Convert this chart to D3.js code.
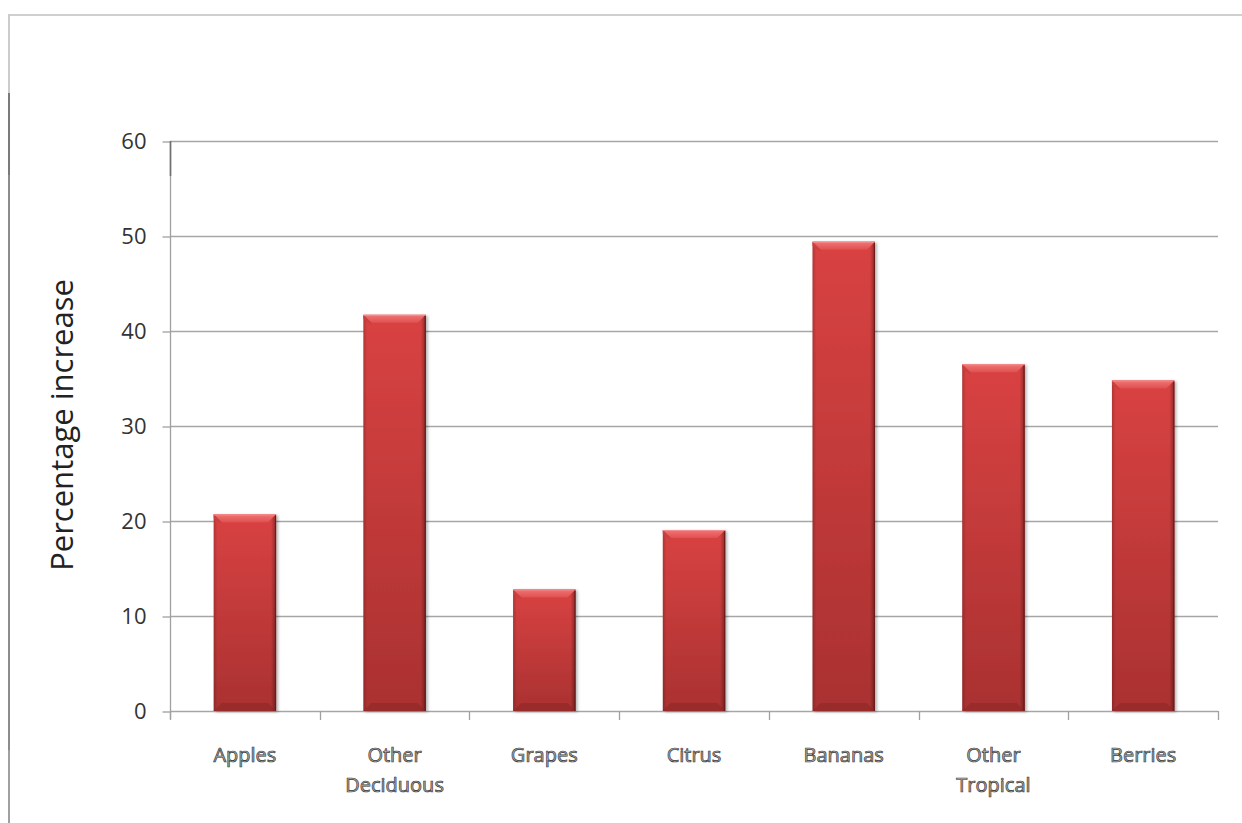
<!DOCTYPE html>
<html>
<head>
<meta charset="utf-8">
<script src="https://cdn.jsdelivr.net/npm/d3@7"></script>
<style>
  html, body { margin: 0; padding: 0; background: #fff; }
  svg { display: block; }
</style>
</head>
<body>
<script>
// Fruit consumption growth, by fruit group
const categories = ["Apples", "Other Deciduous", "Grapes", "Citrus", "Bananas", "Other Tropical", "Berries"];
const values = [20.7, 41.7, 12.8, 19.05, 49.4, 36.5, 34.8];
const yTicks = [0, 10, 20, 30, 40, 50, 60];
const yTitle = "Percentage increase";

const W = 1242, H = 823;
const plot = { left: 170, right: 1218, top: 141, bottom: 711 };
const FONT = "'Open Sans', 'DejaVu Sans', sans-serif";

const svg = d3.select("body").append("svg").attr("width", W).attr("height", H);

// gradients for the bevelled bars
const defs = svg.append("defs");
const body = defs.append("linearGradient").attr("id", "barBody").attr("x1", 0).attr("y1", 0).attr("x2", 0).attr("y2", 1);
body.append("stop").attr("offset", "0%").attr("stop-color", "#d94242");
body.append("stop").attr("offset", "100%").attr("stop-color", "#aa3131");
const side = defs.append("linearGradient").attr("id", "barSide").attr("x1", 0).attr("y1", 0).attr("x2", 1).attr("y2", 0);
side.append("stop").attr("offset", "0%").attr("stop-color", "#000").attr("stop-opacity", 0.18);
side.append("stop").attr("offset", "6%").attr("stop-color", "#000").attr("stop-opacity", 0);
side.append("stop").attr("offset", "92%").attr("stop-color", "#000").attr("stop-opacity", 0);
side.append("stop").attr("offset", "100%").attr("stop-color", "#000").attr("stop-opacity", 0.35);
const topBev = defs.append("linearGradient").attr("id", "topBevel").attr("x1", 0).attr("y1", 0).attr("x2", 0).attr("y2", 1);
topBev.append("stop").attr("offset", "0%").attr("stop-color", "#f07575");
topBev.append("stop").attr("offset", "100%").attr("stop-color", "#e05050");
const shadow = defs.append("filter").attr("id", "barShadow").attr("x", "-20%").attr("y", "-5%").attr("width", "140%").attr("height", "110%");
shadow.append("feDropShadow").attr("dx", 2).attr("dy", 1).attr("stdDeviation", 1.5).attr("flood-color", "#000").attr("flood-opacity", 0.3);

// outer frame of the chart object
svg.append("line").attr("x1", 8).attr("x2", W).attr("y1", 15).attr("y2", 15)
  .attr("stroke", "#cfcfcf").attr("stroke-width", 2);
const frameSegs = [[14, 93, "#cccccc"], [93, 175, "#7a7a7a"], [175, 750, "#8c8c8c"], [750, H, "#a0a0a0"]];
svg.append("g").selectAll("line").data(frameSegs).join("line")
  .attr("x1", 9).attr("x2", 9).attr("y1", d => d[0]).attr("y2", d => d[1])
  .attr("stroke", d => d[2]).attr("stroke-width", 2);

const x = d3.scaleBand().domain(categories).range([plot.left, plot.right]).paddingInner(0.5833).paddingOuter(0.2917);
const xBand = d3.scaleBand().domain(categories).range([plot.left, plot.right]);
const y = d3.scaleLinear().domain([0, 60]).range([plot.bottom, plot.top]);

// horizontal gridlines
svg.append("g").selectAll("line").data(yTicks).join("line")
  .attr("x1", plot.left).attr("x2", plot.right)
  .attr("y1", d => Math.round(y(d)) + 0.5).attr("y2", d => Math.round(y(d)) + 0.5)
  .attr("stroke", "#a6a6a6").attr("stroke-width", 1.3);

// y axis
const yAxis = d3.axisLeft(y).tickValues(yTicks).tickSize(8).tickPadding(16).tickFormat(d3.format("d"));
const gy = svg.append("g").attr("transform", `translate(${plot.left + 0.5},0.5)`).call(yAxis);
gy.select(".domain").remove();
gy.selectAll(".tick line").attr("stroke", "#a0a0a0").attr("stroke-width", 1.3);
gy.selectAll(".tick text").attr("font-family", FONT).attr("font-size", 22)
  .attr("fill", "#333");
svg.append("line").attr("x1", plot.left + 0.5).attr("x2", plot.left + 0.5).attr("y1", plot.top).attr("y2", plot.bottom + 8)
  .attr("stroke", "#a0a0a0").attr("stroke-width", 1.3);
svg.append("line").attr("x1", plot.left + 0.5).attr("x2", plot.left + 0.5).attr("y1", plot.top).attr("y2", plot.top + 35)
  .attr("stroke", "#707070").attr("stroke-width", 1.6);

// x axis with category boundary ticks
const boundaries = categories.map(c => xBand(c)).concat([plot.right]);
svg.append("g").selectAll("line").data(boundaries).join("line")
  .attr("x1", d => Math.round(d) + 0.5).attr("x2", d => Math.round(d) + 0.5)
  .attr("y1", plot.bottom).attr("y2", plot.bottom + 9)
  .attr("stroke", "#a0a0a0").attr("stroke-width", 1.3);

// bars
const bars = svg.append("g").selectAll("g").data(categories).join("g");
bars.append("rect")
  .attr("x", d => x(d)).attr("width", x.bandwidth())
  .attr("y", (d, i) => y(values[i])).attr("height", (d, i) => y(0) - y(values[i]))
  .attr("fill", "url(#barBody)").attr("filter", "url(#barShadow)");
bars.append("rect")
  .attr("x", d => x(d)).attr("width", x.bandwidth())
  .attr("y", (d, i) => y(values[i])).attr("height", (d, i) => y(0) - y(values[i]))
  .attr("fill", "url(#barSide)");
// top bevel
const bev = 8;
bars.append("path")
  .attr("d", (d, i) => {
    const x0 = x(d), x1 = x(d) + x.bandwidth(), t = y(values[i]);
    return `M${x0},${t}L${x1},${t}L${x1 - bev},${t + bev}L${x0 + bev},${t + bev}Z`;
  })
  .attr("fill", "url(#topBevel)");
bars.append("path")
  .attr("d", (d, i) => {
    const x0 = x(d), t = y(values[i]);
    return `M${x0},${t}L${x0 + bev},${t + bev}L${x0 + bev},${t + bev + 2}L${x0},${t + 4}Z`;
  })
  .attr("fill", "#c84040");
bars.append("line")
  .attr("x1", d => x(d)).attr("x2", d => x(d) + x.bandwidth())
  .attr("y1", (d, i) => y(values[i]) + 0.5).attr("y2", (d, i) => y(values[i]) + 0.5)
  .attr("stroke", "#f59090").attr("stroke-width", 1);
// bottom bevel
bars.append("path")
  .attr("d", d => {
    const x0 = x(d), x1 = x(d) + x.bandwidth(), b = y(0);
    return `M${x0},${b}L${x1},${b}L${x1 - bev},${b - bev}L${x0 + bev},${b - bev}Z`;
  })
  .attr("fill", "#8e2626").attr("opacity", 0.6);
// right edge darkening
bars.append("line")
  .attr("x1", d => x(d) + x.bandwidth() - 0.5).attr("x2", d => x(d) + x.bandwidth() - 0.5)
  .attr("y1", (d, i) => y(values[i]) + 1).attr("y2", y(0))
  .attr("stroke", "#6e1a1a").attr("stroke-width", 1.2);

// category labels
const lines = { "Other Deciduous": ["Other", "Deciduous"], "Other Tropical": ["Other", "Tropical"] };
const xl = svg.append("g").selectAll("text").data(categories).join("text")
  .attr("x", d => xBand(d) + xBand.bandwidth() / 2).attr("y", 762)
  .attr("text-anchor", "middle")
  .attr("font-family", FONT).attr("font-size", 20)
  .attr("fill", "#b0b0b0").attr("stroke", "#3a3a3a").attr("stroke-width", 0.7);
xl.selectAll("tspan").data(d => lines[d] || [d]).join("tspan")
  .attr("x", function () { return this.parentNode.getAttribute("x"); })
  .attr("dy", (d, i) => i === 0 ? 0 : 30)
  .text(d => d);

// y axis title
svg.append("text")
  .attr("transform", `translate(73,${(plot.top + plot.bottom) / 2 - 1}) rotate(-90)`)
  .attr("text-anchor", "middle")
  .attr("font-family", FONT).attr("font-size", 31)
  .attr("fill", "#222")
  .text(yTitle);
</script>
</body>
</html>
